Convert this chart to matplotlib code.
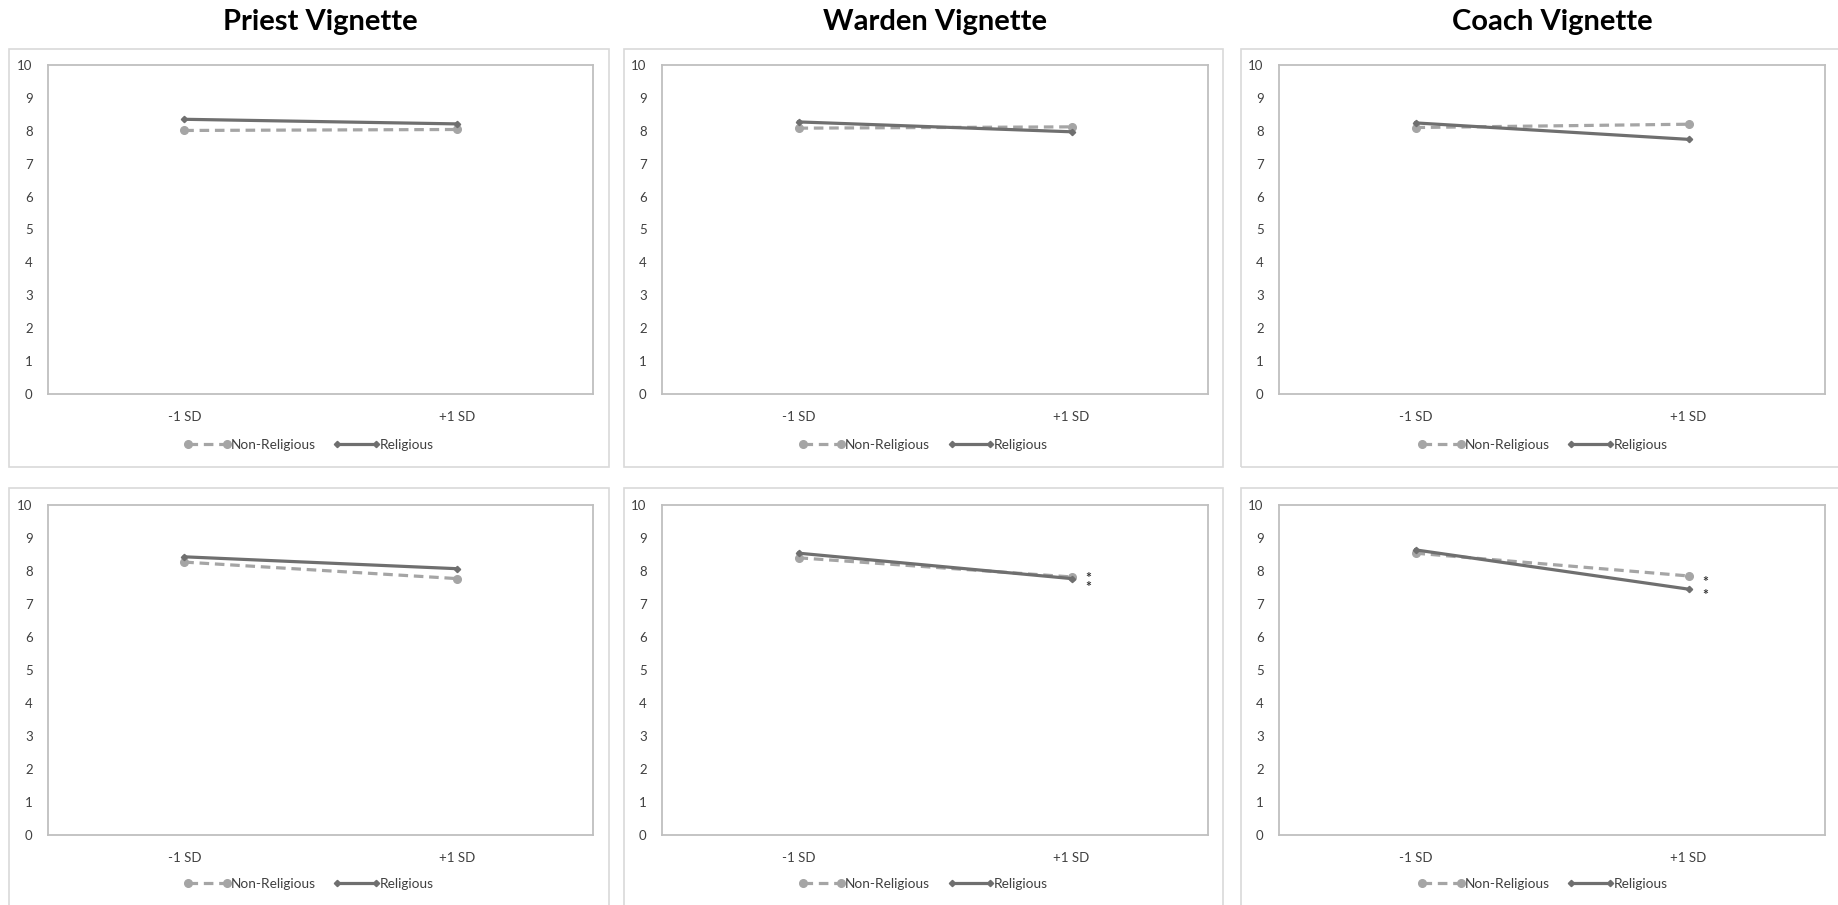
import matplotlib
matplotlib.use('Agg')
import matplotlib.pyplot as plt
from matplotlib.patches import Rectangle

plt.rcParams['font.family'] = ['Lato', 'DejaVu Sans']

W, H = 1838, 905

categories = ['-1 SD', '+1 SD']
titles = ['Priest Vignette', 'Warden Vignette', 'Coach Vignette']
series_names = ['Non-Religious', 'Religious']

# top row
priest_top_nonrel = [8.01, 8.04]
priest_top_rel = [8.35, 8.21]
warden_top_nonrel = [8.08, 8.12]
warden_top_rel = [8.27, 7.97]
coach_top_nonrel = [8.10, 8.20]
coach_top_rel = [8.24, 7.74]

# bottom row
priest_bot_nonrel = [8.27, 7.77]
priest_bot_rel = [8.43, 8.07]
warden_bot_nonrel = [8.40, 7.82]
warden_bot_rel = [8.54, 7.77]
coach_bot_nonrel = [8.54, 7.85]
coach_bot_rel = [8.64, 7.45]

# significance stars next to +1 SD (bottom row)
warden_stars = [7.93, 7.63]
coach_stars = [7.84, 7.36]

NONREL_COLOR = '#A5A5A5'
REL_COLOR = '#6F6F6F'
TEXT_COLOR = '#404040'


def fig_rect(x0, y0, x1, y1):
    # pixel box (top-left origin) -> figure fraction rect
    return [x0 / W, 1 - y1 / H, (x1 - x0) / W, (y1 - y0) / H]


fig = plt.figure(figsize=(W / 100, H / 100), dpi=100)

frame_x = [(9, 609), (624, 1223), (1241, 1845)]
plot_x = [(48, 593), (662, 1208), (1279, 1825)]
frame_y = [(49, 467), (488, 912)]
plot_y = [(65, 394), (505, 835)]
legend_y = [445, 884]

rows = [
    [(priest_top_nonrel, priest_top_rel, None),
     (warden_top_nonrel, warden_top_rel, None),
     (coach_top_nonrel, coach_top_rel, None)],
    [(priest_bot_nonrel, priest_bot_rel, None),
     (warden_bot_nonrel, warden_bot_rel, warden_stars),
     (coach_bot_nonrel, coach_bot_rel, coach_stars)],
]

STAR_SIZE = 10

for r, row in enumerate(rows):
    for c, (nonrel, rel, stars) in enumerate(row):
        fx0, fx1 = frame_x[c]
        fy0, fy1 = frame_y[r]
        fig.add_artist(Rectangle((fx0 / W, 1 - fy1 / H), (fx1 - fx0) / W, (fy1 - fy0) / H,
                                 transform=fig.transFigure, fill=False,
                                 edgecolor='#D9D9D9', lw=1.2))

        px0, px1 = plot_x[c]
        py0, py1 = plot_y[r]
        ax = fig.add_axes(fig_rect(px0, py0, px1, py1))
        x = list(range(len(categories)))
        ax.plot(x, nonrel, color=NONREL_COLOR, lw=2.3, linestyle=(0, (3, 1.8)),
                marker='o', markersize=5.5, label=series_names[0])
        ax.plot(x, rel, color=REL_COLOR, lw=2.3, marker='D', markersize=3.2,
                label=series_names[1])

        if stars:
            # both stars as one two-line text, line pitch matched to the gap
            gap_pt = (stars[0] - stars[1]) * (py1 - py0) / 10 * 0.72
            ax.annotate('*\n*', (1.06, sum(stars) / 2), xytext=(0, -3),
                        textcoords='offset points', ha='center', va='center',
                        fontsize=STAR_SIZE, fontweight='bold', color='#333333',
                        linespacing=gap_pt / (STAR_SIZE * 1.05))

        ax.set_xlim(-0.5, 1.5)
        ax.set_ylim(0, 10)
        ax.set_yticks(range(0, 11))
        ax.set_xticks(x, categories)
        ax.tick_params(length=0, labelsize=9.5, colors=TEXT_COLOR)
        ax.tick_params(axis='y', pad=11)
        ax.tick_params(axis='x', pad=12)
        for sp in ax.spines.values():
            sp.set_color('#BFBFBF')
            sp.set_linewidth(1.3)

        ax.legend(loc='center', bbox_to_anchor=((fx0 + fx1) / 2 / W, 1 - legend_y[r] / H),
                  bbox_transform=fig.transFigure, ncol=2, frameon=False, numpoints=2,
                  handlelength=3.4, handletextpad=0.0, columnspacing=1.3,
                  fontsize=9.8, labelcolor=TEXT_COLOR)

        if r == 0:
            fig.text((px0 + px1) / 2 / W, 1 - 22 / H, titles[c], ha='center', va='center',
                     fontsize=21, fontweight='bold', color='black')

fig.savefig('out.png', dpi=100, facecolor='white')
plt.close(fig)
